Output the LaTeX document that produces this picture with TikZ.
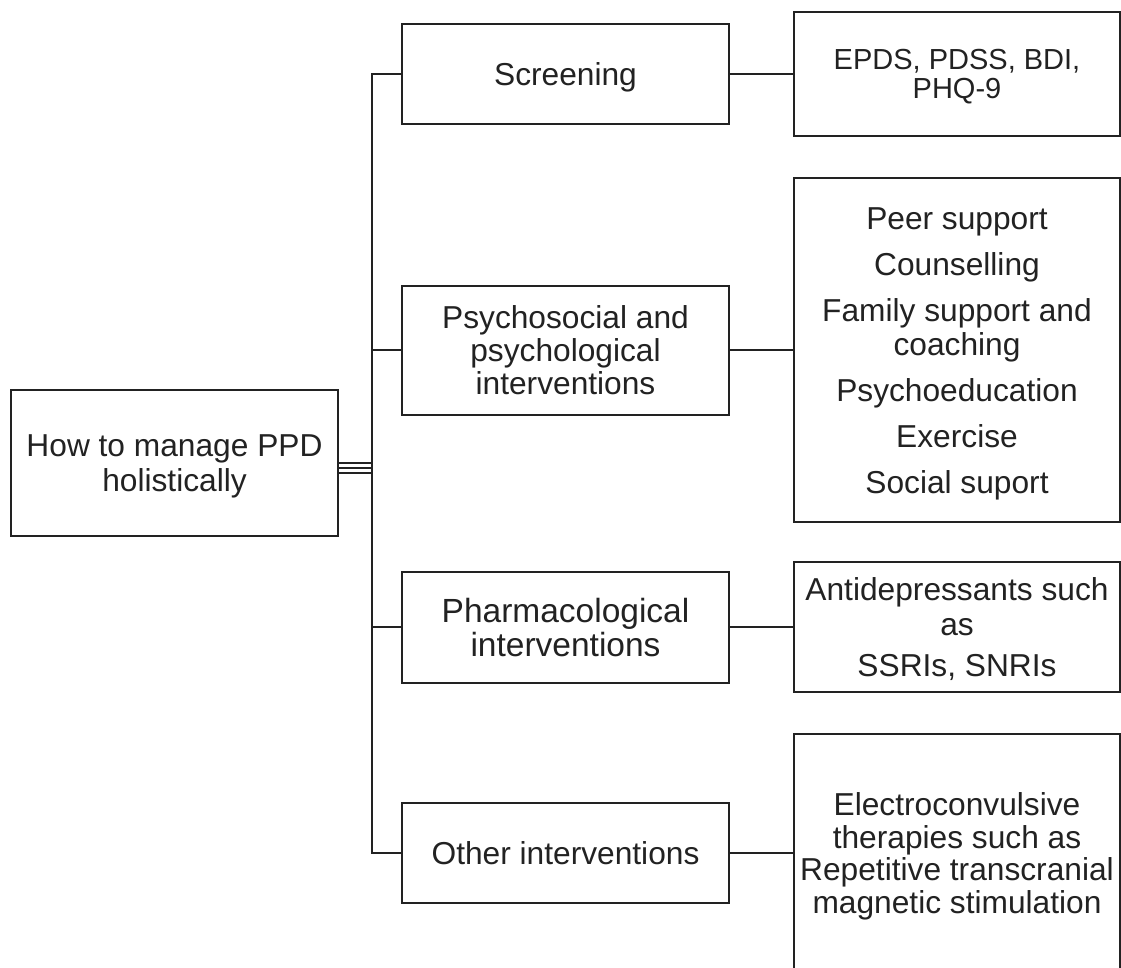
\documentclass[tikz,border=0pt]{standalone}
\usepackage{fontspec}
\setmainfont{Liberation Sans}
\definecolor{ink}{HTML}{222222}
\newcommand\tb[3]{\fontsize{#1}{#2}\selectfont\begin{tabular}{@{}c@{}}#3\end{tabular}}
\begin{document}
\begin{tikzpicture}[x=1pt,y=-1pt,
  box/.style={draw=ink, line width=2pt, inner sep=0pt},
  lone/.style={box, minimum width=327pt},
  ltwo/.style={box, minimum width=326pt},
  txt/.style={text=ink, inner sep=0pt, anchor=center},
  link/.style={draw=ink, line width=2pt},
  triple/.style={draw=ink, line width=1.3pt}]
\useasboundingbox (0,0) rectangle (1121,968);
\fill[white] (0,0) rectangle (1121,968);
\coordinate (spine) at (372,0);
% root
\node[box, minimum width=327pt, minimum height=146pt] (root) at (174.5,463) {};
\node[txt] (roott) at ([yshift=-4.35pt]root.center) {\tb{31.7}{35}{How to manage PPD\\holistically}};
% level 1
\node[lone, minimum height=100pt] (s1) at (565.5,74) {};
\node[txt] (s1t) at ([yshift=-4.75pt]s1.center) {\tb{31.7}{33}{Screening}};
\node[lone, minimum height=129pt] (s2) at (565.5,350) {};
\node[txt] (s2t) at ([yshift=-4.85pt]s2.center) {\tb{31.7}{32.5}{Psychosocial and\\psychological\\interventions}};
\node[lone, minimum height=111pt] (s3) at (565.5,627) {};
\node[txt] (s3t) at ([yshift=-5.3pt]s3.center) {\tb{33.5}{33.3}{Pharmacological\\interventions}};
\node[lone, minimum height=100pt] (s4) at (565.5,853) {};
\node[txt] (s4t) at ([yshift=-4.75pt]s4.center) {\tb{31.7}{33}{Other interventions}};
% level 2
\node[ltwo, minimum height=124pt] (r1) at (957,74) {};
\node[txt] (r1t) at ([yshift=-4.58pt]r1.center) {\tb{29}{29}{EPDS, PDSS, BDI,\\PHQ-9}};
\node[ltwo, minimum height=344pt] (r2) at (957,350) {};
\node[txt] (r2t) at ([yshift=-4.55pt]r2.center) {\tb{31.7}{34}{Peer support\\[12pt]Counselling\\[12pt]Family support and\\coaching\\[12pt]Psychoeducation\\[12pt]Exercise\\[12pt]Social suport}};
\node[ltwo, minimum height=130pt] (r3) at (957,627) {};
\node[txt] (r3t) at ([yshift=-4.35pt]r3.center) {\tb{31.7}{35}{Antidepressants such\\as\\[6.7pt]SSRIs, SNRIs}};
\node[ltwo, minimum height=238pt] (r4) at (957,853) {};
\node[txt] (r4t) at ([yshift=-4.81pt]r4.center) {\tb{31.7}{32.7}{Electroconvulsive\\therapies such as\\Repetitive transcranial\\magnetic stimulation}};
% spine
\draw[link] (s1.west) -- (s1.west -| spine) -- (s4.west -| spine) -- (s4.west);
\draw[link] (s2.west) -- (s2.west -| spine);
\draw[link] (s3.west) -- (s3.west -| spine);
\foreach \d in {0,5,10}
  \draw[triple] ([yshift=-\d pt]root.east) -- ([yshift=-\d pt]root.east -| spine);
% right links
\draw[link] (s1.east) -- (r1.west);
\draw[link] (s2.east) -- (r2.west);
\draw[link] (s3.east) -- (r3.west);
\draw[link] (s4.east) -- (r4.west);
\end{tikzpicture}
\end{document}
